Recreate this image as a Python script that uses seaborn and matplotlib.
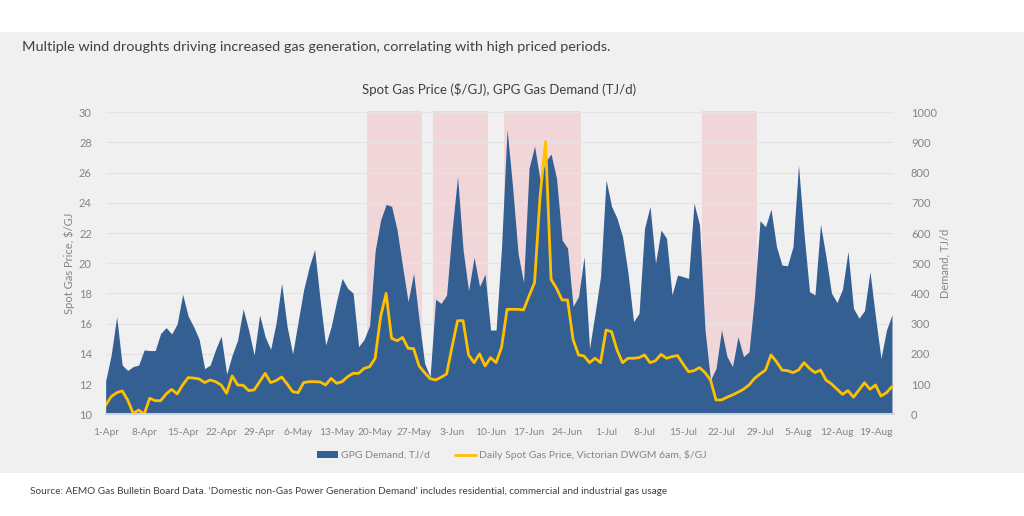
import pandas as pd
import numpy as np
import matplotlib
matplotlib.use("Agg")
import matplotlib.pyplot as plt
from matplotlib.patches import Patch, Rectangle
from matplotlib.lines import Line2D
import seaborn as sns

# Données (1-Apr -> 22-Aug)
start_date = "2024-04-01"

gpg_demand = [
    111, 196, 323, 163, 145, 158, 163, 213, 211, 211,
    268, 287, 266, 299, 397, 325, 290, 248, 151, 163,
    215, 259, 133, 196, 246, 349, 279, 196, 329, 257,
    215, 303, 434, 290, 200, 307, 412, 487, 546, 379,
    229, 290, 375, 450, 417, 401, 224, 248, 294, 540,
    643, 695, 689, 610, 489, 373, 467, 312, 169, 124,
    381, 367, 395, 610, 787, 544, 409, 520, 423, 464,
    279, 279, 555, 944, 754, 533, 436, 815, 888, 776,
    837, 862, 781, 577, 550, 357, 390, 522, 218, 334,
    456, 776, 689, 649, 588, 467, 307, 334, 616, 688,
    500, 610, 583, 395, 461, 456, 450, 699, 627, 279,
    114, 152, 279, 191, 158, 257, 191, 207, 389, 641,
    621, 679, 555, 494, 492, 555, 825, 599, 406, 395,
    629, 522, 401, 370, 414, 539, 351, 318, 343, 472,
    323, 185, 279, 329,
]

spot_price = [
    10.60, 11.17, 11.43, 11.55, 10.95, 10.06, 10.28, 10.00, 11.06, 10.90,
    10.90, 11.35, 11.65, 11.35, 11.94, 12.43, 12.40, 12.34, 12.10, 12.27,
    12.16, 11.94, 11.39, 12.54, 11.94, 11.92, 11.57, 11.61, 12.16, 12.71,
    12.10, 12.23, 12.47, 12.01, 11.50, 11.43, 12.10, 12.16, 12.16, 12.14,
    11.94, 12.38, 12.05, 12.16, 12.49, 12.71, 12.71, 13.04, 13.15, 13.70,
    16.46, 18.01, 15.03, 14.87, 15.09, 14.37, 14.35, 13.20, 12.76, 12.36,
    12.27, 12.45, 12.67, 14.48, 16.20, 16.20, 13.93, 13.42, 14.00, 13.20,
    13.75, 13.42, 14.44, 16.95, 16.95, 16.95, 16.91, 17.84, 18.72, 24.42,
    28.06, 18.94, 18.34, 17.57, 17.57, 14.96, 13.93, 13.86, 13.42, 13.71,
    13.42, 15.58, 15.47, 14.26, 13.42, 13.71, 13.71, 13.75, 13.93, 13.42,
    13.55, 13.97, 13.71, 13.82, 13.89, 13.33, 12.82, 12.89, 13.09, 12.76,
    12.27, 10.95, 10.95, 11.13, 11.28, 11.46, 11.66, 11.94, 12.38, 12.67,
    12.93, 13.93, 13.48, 12.93, 12.89, 12.76, 12.93, 13.42, 13.04, 12.76,
    12.93, 12.27, 12.01, 11.66, 11.32, 11.57, 11.13, 11.61, 12.09, 11.66,
    11.94, 11.21, 11.43, 11.83,
]

# Périodes de "wind drought" (zones roses)
drought_starts = ["2024-05-19", "2024-05-31", "2024-06-13", "2024-07-19"]
drought_ends = ["2024-05-28", "2024-06-09", "2024-06-26", "2024-07-28"]

title_text = "Multiple wind droughts driving increased gas generation, correlating with high priced periods."
chart_title = "Spot Gas Price ($/GJ), GPG Gas Demand (TJ/d)"
source_text = ("Source: AEMO Gas Bulletin Board Data. \u2018Domestic non-Gas Power Generation Demand\u2019 "
               "includes residential, commercial and industrial gas usage")
label_demand = "GPG Demand, TJ/d"
label_price = "Daily Spot Gas Price, Victorian DWGM 6am, $/GJ"

BLUE = "#335f93"
YELLOW = "#ffc000"
PINK = "#f1d6d9"
PANEL = "#f0f0f0"
GREY_TXT = "#858585"
DARK_TXT = "#404040"

sns.set_theme(style="white")
plt.rcParams["font.family"] = ["Lato", "DejaVu Sans"]

dates = pd.date_range(start_date, periods=len(gpg_demand), freq="D")
df = pd.DataFrame({"date": dates, "demand": gpg_demand, "price": spot_price})

fig = plt.figure(figsize=(10.24, 5.16), dpi=100)
fig.patch.set_facecolor("white")
# Bandeau gris
fig.patches.append(Rectangle((0, 0.0833), 1, 0.855, transform=fig.transFigure,
                             facecolor=PANEL, edgecolor="none", zorder=-10))

ax = fig.add_axes([0.1032, 0.1971, 0.7701, 0.5853])
ax2 = ax.twinx()
ax.set_zorder(ax2.get_zorder() + 1)
ax.patch.set_visible(False)
ax2.patch.set_visible(False)

# Zones roses + demande (axe de droite)
half = pd.Timedelta(hours=12)
for s, e in zip(drought_starts, drought_ends):
    ax2.axvspan(pd.Timestamp(s) - half, pd.Timestamp(e) + half, ymax=1.004,
                color=PINK, lw=0, zorder=0.2, clip_on=False)
ax2.fill_between(df["date"], df["demand"], 0, color=BLUE, lw=0, zorder=2)
ax2.set_ylim(0, 1000)
ax2.set_yticks(np.arange(0, 1001, 100))
ax2.yaxis.grid(True, color="#e3e3e3", lw=0.9, zorder=0.5)
ax2.set_axisbelow(True)

# Prix spot (axe de gauche)
sns.lineplot(data=df, x="date", y="price", ax=ax, color=YELLOW, lw=2.0, legend=False)
ax.set_ylim(10, 30)
ax.set_yticks(np.arange(10, 31, 2))
ax.grid(False)

ax.set_xlim(dates[0], dates[-1] + pd.Timedelta(hours=10))
tick_dates = dates[::7]
ax.set_xticks(tick_dates)
ax.set_xticklabels([f"{d.day}-{d.strftime('%b')}" for d in tick_dates])

for a in (ax, ax2):
    for side in ("top", "left", "right"):
        a.spines[side].set_visible(False)
    a.spines["bottom"].set_color("#d0d6e0")
    a.tick_params(length=0, labelsize=8, labelcolor=GREY_TXT)
ax.tick_params(axis="x", labelsize=7.3, pad=10)
ax.tick_params(axis="y", pad=10)
ax2.tick_params(axis="y", pad=12)

ax.set_xlabel("")
ax.set_ylabel("Spot Gas Price, $/GJ", fontsize=8, color=GREY_TXT, labelpad=3)
ax2.set_ylabel("Demand, TJ/d", fontsize=8, color=GREY_TXT, rotation=90, labelpad=2)

# Textes
fig.text(0.021, 0.909, title_text, fontsize=10.4, color=DARK_TXT, va="center", ha="left")
fig.text(0.487, 0.826, chart_title, fontsize=9.5, color=DARK_TXT, va="center", ha="center")
fig.text(0.029, 0.047, source_text, fontsize=7.2, color=DARK_TXT, va="center", ha="left")

handles = [Patch(facecolor=BLUE, edgecolor="none"), Line2D([], [], color=YELLOW, lw=2)]
fig.legend(handles, [label_demand, label_price], loc="center", bbox_to_anchor=(0.5, 0.118),
           ncol=2, frameon=False, fontsize=7.5, labelcolor=GREY_TXT,
           handlelength=2.0, handleheight=0.6, handletextpad=0.3, columnspacing=2.4)

fig.savefig("out.png", dpi=100, facecolor=fig.get_facecolor())
